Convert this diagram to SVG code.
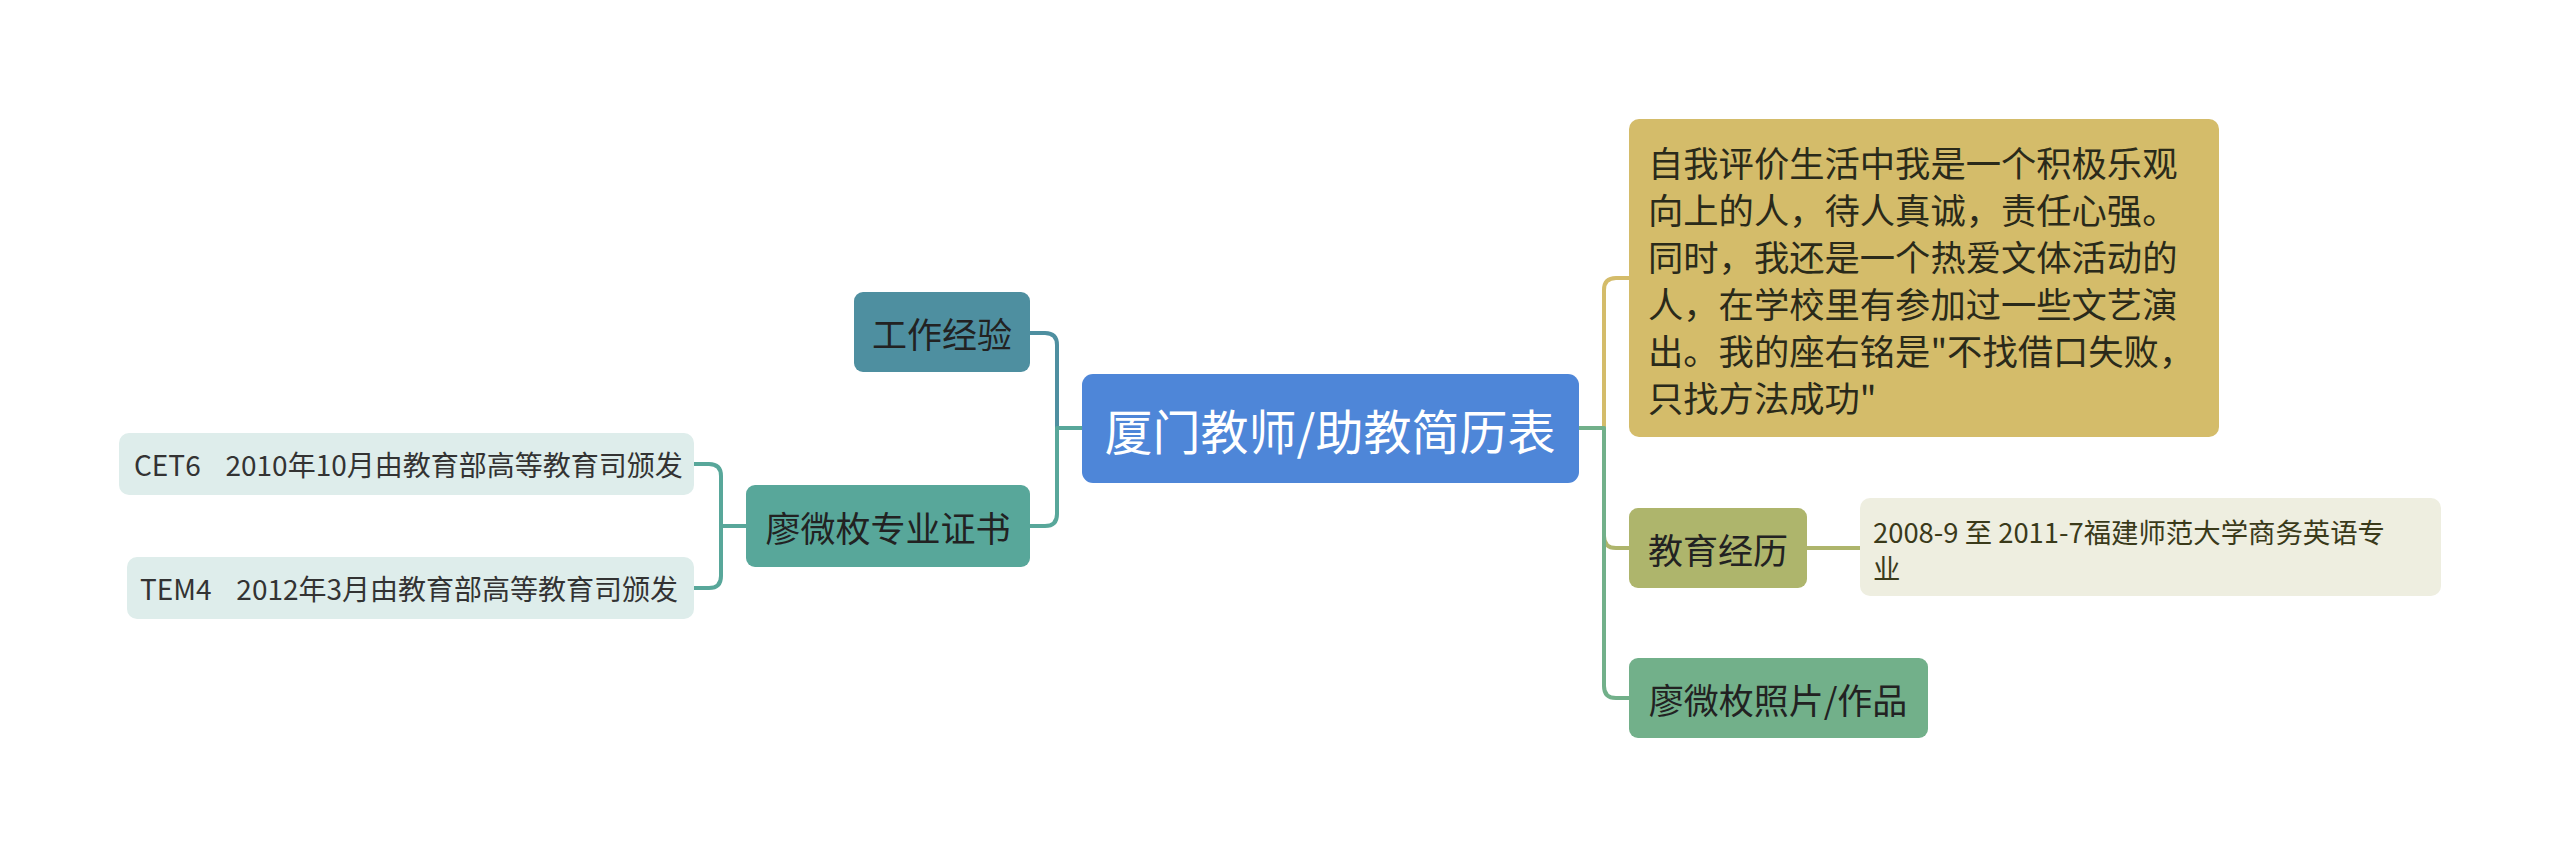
<svg xmlns="http://www.w3.org/2000/svg" width="2560" height="859" viewBox="0 0 2560 859">
<style>
text{font-family:"Noto Sans CJK SC","Noto Sans",sans-serif;dominant-baseline:central;}
.root{font-size:48px;fill:#ffffff;text-anchor:middle;}
.main{font-size:35px;fill:#222222;text-anchor:middle;}
.para{font-size:35.3px;fill:#2a2a1a;}
.sub{font-size:28px;fill:#333333;white-space:pre;}
.det{font-size:27.4px;fill:#3a3a1a;}
.edge{fill:none;stroke-width:4;stroke-linecap:round;stroke-linejoin:round;}
</style>
<rect width="2560" height="859" fill="#ffffff"/>
<g id="connectors">
<path class="edge" stroke="#4E8FA0" d="M1082,428 H1057 V345 Q1057,333 1045,333 H1030"/>
<path class="edge" stroke="#58A79A" d="M1082,428 H1057 V514 Q1057,526 1045,526 H1030"/>
<path class="edge" stroke="#58A79A" d="M746,526 H721 V476 Q721,464 709,464 H694"/>
<path class="edge" stroke="#58A79A" d="M746,526 H721 V576 Q721,588 709,588 H694"/>
<path class="edge" stroke="#D4BC6A" d="M1579,428 H1604 V290 Q1604,278 1616,278 H1629"/>
<path class="edge" stroke="#AEB56C" d="M1579,428 H1604 V536 Q1604,548 1616,548 H1629"/>
<path class="edge" stroke="#72B08A" d="M1579,428 H1604 V686 Q1604,698 1616,698 H1629"/>
<path class="edge" stroke="#AEB56C" stroke-width="5" d="M1807,548 H1860"/>
</g>
<g id="root">
<rect x="1082" y="374" width="497" height="109" rx="11" fill="#4E86D8"/>
<text class="root" x="1330" y="429">厦门教师/助教简历表</text>
</g>
<g id="work">
<rect x="854" y="292" width="176" height="80" rx="9" fill="#4E8FA0"/>
<text class="main" x="942" y="332">工作经验</text>
</g>
<g id="cert">
<rect x="746" y="485" width="284" height="82" rx="9" fill="#58A79A"/>
<text class="main" x="888" y="526">廖微枚专业证书</text>
</g>
<g id="cet6">
<rect x="119" y="433" width="575" height="62" rx="10" fill="#DEEDEB"/>
<text class="sub" x="134" y="464" word-spacing="2">CET6   2010年10月由教育部高等教育司颁发</text>
</g>
<g id="tem4">
<rect x="127" y="557" width="567" height="62" rx="10" fill="#DEEDEB"/>
<text class="sub" x="140" y="588" word-spacing="2">TEM4   2012年3月由教育部高等教育司颁发</text>
</g>
<g id="self">
<rect x="1629" y="119" width="590" height="318" rx="10" fill="#D4BC6A"/>
<text class="para" x="1648" y="161">自我评价生活中我是一个积极乐观</text>
<text class="para" x="1648" y="208">向上的人，待人真诚，责任心强。</text>
<text class="para" x="1648" y="255">同时，我还是一个热爱文体活动的</text>
<text class="para" x="1648" y="302">人，在学校里有参加过一些文艺演</text>
<text class="para" x="1648" y="349">出。我的座右铭是"不找借口失败，</text>
<text class="para" x="1648" y="396">只找方法成功"</text>
</g>
<g id="edu">
<rect x="1629" y="508" width="178" height="80" rx="9" fill="#AEB56C"/>
<text class="main" x="1718" y="548">教育经历</text>
</g>
<g id="edu-detail">
<rect x="1860" y="498" width="581" height="98" rx="10" fill="#EEEEE0"/>
<text class="det" x="1873" y="531">2008-9 至 2011-7福建师范大学商务英语专</text>
<text class="det" x="1873" y="567">业</text>
</g>
<g id="photo">
<rect x="1629" y="658" width="299" height="80" rx="9" fill="#72B08A"/>
<text class="main" x="1778" y="698">廖微枚照片/作品</text>
</g>
</svg>
